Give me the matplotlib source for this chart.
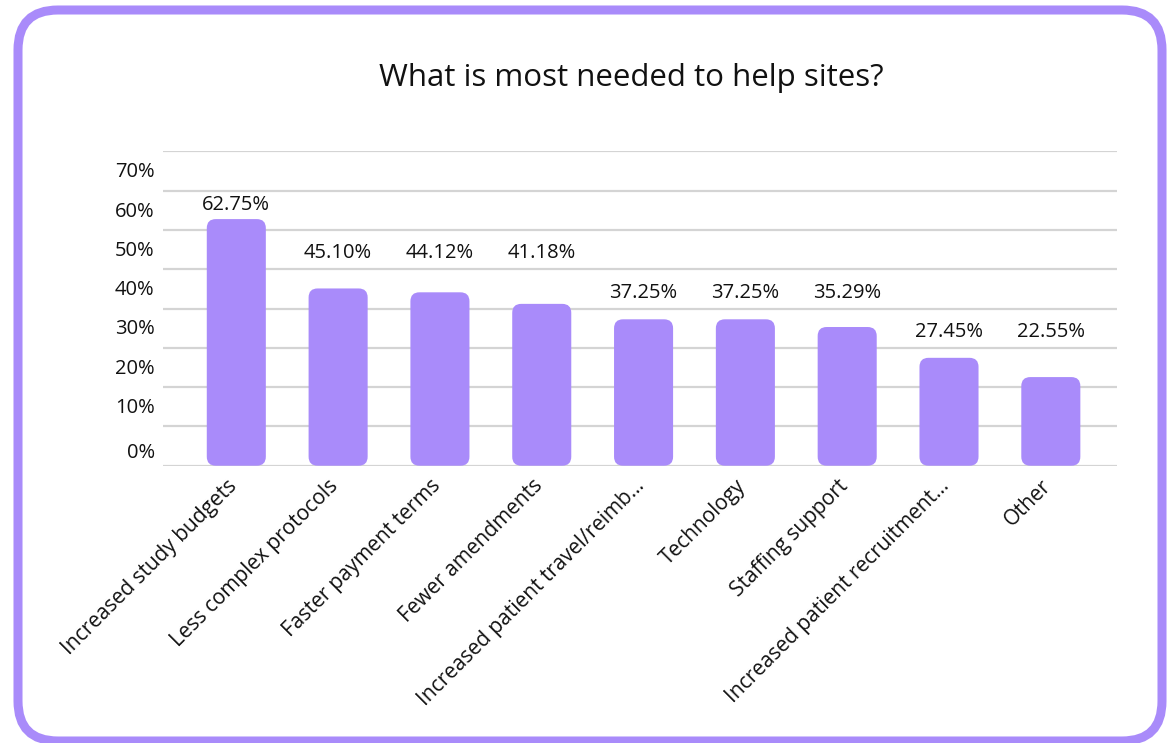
import numpy as np
import matplotlib
matplotlib.use("Agg")
import matplotlib.pyplot as plt
from matplotlib.patches import FancyBboxPatch
from matplotlib.transforms import ScaledTranslation

plt.rcParams["font.family"] = ["Open Sans", "DejaVu Sans"]

TITLE = "What is most needed to help sites?"
CATEGORIES = [
    "Increased study budgets",
    "Less complex protocols",
    "Faster payment terms",
    "Fewer amendments",
    "Increased patient travel/reimb...",
    "Technology",
    "Staffing support",
    "Increased patient recruitment...",
    "Other",
]
VALUES = [62.75, 45.10, 44.12, 41.18, 37.25, 37.25, 35.29, 27.45, 22.55]
Y_TICKS = [0, 10, 20, 30, 40, 50, 60, 70]
Y_TICK_LABELS = ["0%", "10%", "20%", "30%", "40%", "50%", "60%", "70%"]

BAR_COLOR = "#a98bfa"
FRAME_COLOR = "#a98bfa"
GRID_COLOR = "#d4d4d4"
TEXT_COLOR = "#111111"
W, H = 1167, 743

fig = plt.figure(figsize=(W / 100, H / 100), dpi=100)

# rounded purple card frame, drawn in pixel coordinates
bg = fig.add_axes([0, 0, 1, 1])
bg.set_xlim(0, W)
bg.set_ylim(H, 0)
bg.axis("off")
bg.add_patch(FancyBboxPatch((18, 10), 1144, 731,
                            boxstyle="round,pad=0,rounding_size=40",
                            fc="white", ec=FRAME_COLOR, lw=6.5))

ax = fig.add_axes([163 / W, 1 - 465.7 / H, (1117 - 163) / W, (465.7 - 151.3) / H])
ax.patch.set_alpha(0)
x = np.arange(len(CATEGORIES))
ax.set_xlim(-0.72, len(CATEGORIES) - 0.35)
ax.set_ylim(0, 80)

bars = ax.bar(x, VALUES, width=0.58, color=BAR_COLOR, zorder=3)

# swap the square bars for rounded ones (radius in pixels)
fig.canvas.draw()
px_x = ax.transData.transform((1, 0))[0] - ax.transData.transform((0, 0))[0]
px_y = ax.transData.transform((0, 1))[1] - ax.transData.transform((0, 0))[1]
r_px = 9
for b in bars:
    b.set_visible(False)
    ax.add_patch(FancyBboxPatch((b.get_x(), b.get_y()), b.get_width(), b.get_height(),
                                boxstyle=f"round,pad=0,rounding_size={r_px / px_x}",
                                mutation_aspect=px_x / px_y,
                                fc=BAR_COLOR, ec="none", zorder=3))

# value labels sit in bands above the bars
for xi, v in zip(x, VALUES):
    ly = min(np.ceil(v / 10) * 10 + 4, 66.3)
    ax.text(xi, ly, f"{v:.2f}%", ha="center", va="center", fontsize=14.5, color=TEXT_COLOR)

# gridlines on minor ticks, labels on shifted major ticks
ax.set_yticks(np.arange(0, 81, 10), minor=True)
ax.grid(True, which="minor", axis="y", color=GRID_COLOR, lw=1.6, zorder=0)
label_pos = np.array(Y_TICKS, dtype=float) + 5.3
label_pos[0] = 3.8
ax.set_yticks(label_pos)
ax.set_yticklabels(Y_TICK_LABELS, fontsize=14.5, color=TEXT_COLOR)
ax.tick_params(axis="y", which="both", length=0, pad=6)

ax.set_xticks(x)
ax.set_xticklabels(CATEGORIES, rotation=45, ha="right", rotation_mode="anchor",
                   fontsize=15, color=TEXT_COLOR)
ax.tick_params(axis="x", length=0, pad=10)
shift = ScaledTranslation(-10 / 100, 4 / 100, fig.dpi_scale_trans)
for lab in ax.get_xticklabels():
    lab.set_transform(lab.get_transform() + shift)

for s in ax.spines.values():
    s.set_visible(False)

fig.text(631 / W, 1 - 78 / H, TITLE, ha="center", va="center", fontsize=22.5, color=TEXT_COLOR)

fig.savefig("out.png", dpi=100, facecolor="white")
